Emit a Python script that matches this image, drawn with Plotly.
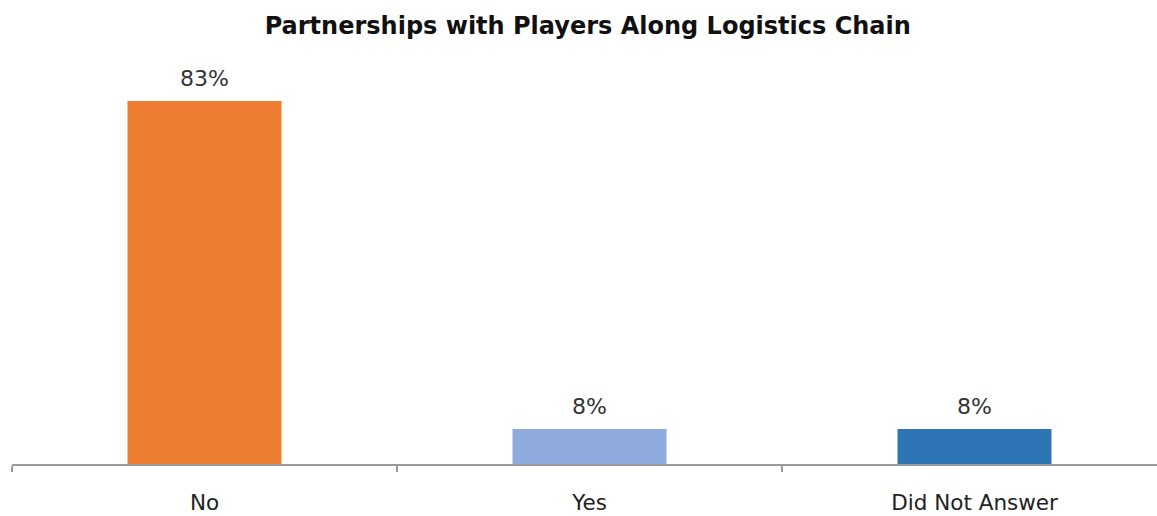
import plotly.graph_objects as go

categories = ["No", "Yes", "Did Not Answer"]
values = [83, 8, 8]
bar_colors = ["#ED7D31", "#8FAADC", "#2E75B6"]
title_text = "Partnerships with Players Along Logistics Chain"

labels = [f"{v}%" for v in values]
FONT = "DejaVu Sans, Open Sans, sans-serif"

fig = go.Figure()
fig.add_trace(go.Bar(
    x=categories,
    y=values,
    width=0.4,
    marker=dict(color=bar_colors, line=dict(width=0)),
    hoverinfo="skip",
))

for c, v, t in zip(categories, values, labels):
    fig.add_annotation(
        x=c, y=v, text=t, showarrow=False,
        yanchor="bottom", yshift=8,
        font=dict(family=FONT, size=22, color="#333333"),
    )

fig.update_layout(
    width=1157, height=516,
    paper_bgcolor="white", plot_bgcolor="white",
    margin=dict(l=12, r=0, t=70, b=52),
    showlegend=False,
    title=dict(
        text=title_text, x=0.508, xanchor="center", y=0.95, yanchor="middle",
        font=dict(family=FONT, size=24, color="#111111", weight="bold"),
    ),
    xaxis=dict(
        type="category",
        range=[-0.5, 2.474],
        automargin=False,
        showline=True, linecolor="#9a9a9a", linewidth=1.5,
        ticks="outside", tickson="boundaries", ticklen=6, tickcolor="#9a9a9a", tickwidth=1.5,
        tickfont=dict(family=FONT, size=21.5, color="#222222"),
        ticklabelstandoff=18,
        showgrid=False, zeroline=False, fixedrange=True,
    ),
    yaxis=dict(
        range=[0, 90.1], visible=False, showgrid=False, zeroline=False, fixedrange=True,
        automargin=False,
    ),
)

fig.write_html("out.html")
